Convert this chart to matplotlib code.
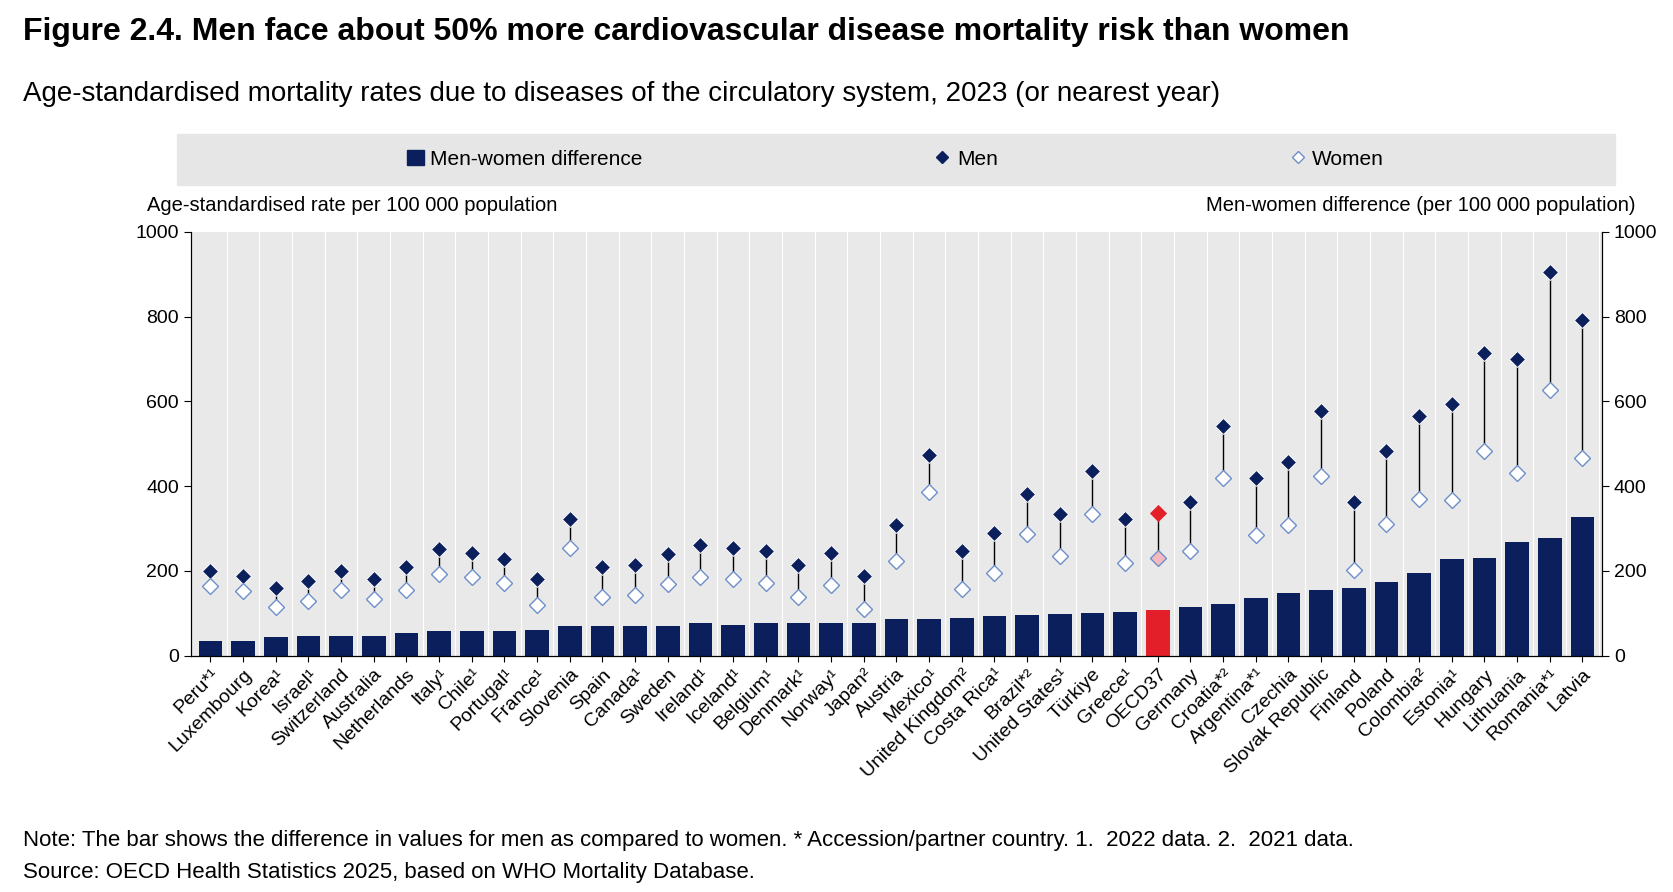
import matplotlib
matplotlib.use("Agg")
import matplotlib.pyplot as plt
import numpy as np
from matplotlib.lines import Line2D
from matplotlib.patches import Patch, Rectangle

plt.rcParams['font.family'] = ['Liberation Sans Narrow', 'Liberation Sans', 'DejaVu Sans']

countries = ["Peru*¹", "Luxembourg", "Korea¹", "Israel¹", "Switzerland", "Australia", "Netherlands",
             "Italy¹", "Chile¹", "Portugal¹", "France¹", "Slovenia", "Spain", "Canada¹", "Sweden",
             "Ireland¹", "Iceland¹", "Belgium¹", "Denmark¹", "Norway¹", "Japan²", "Austria", "Mexico¹",
             "United Kingdom²", "Costa Rica¹", "Brazil*²", "United States¹", "Türkiye", "Greece¹",
             "OECD37", "Germany", "Croatia*²", "Argentina*¹", "Czechia", "Slovak Republic", "Finland",
             "Poland", "Colombia²", "Estonia¹", "Hungary", "Lithuania", "Romania*¹", "Latvia"]
men = [200, 187, 160, 175, 200, 180, 208, 251, 243, 228, 180, 322, 210, 215, 241, 261, 253, 248,
       215, 243, 187, 309, 473, 246, 289, 382, 334, 435, 322, 337, 362, 542, 420, 456, 577, 362,
       484, 565, 595, 714, 699, 906, 792]
women = [165, 152, 114, 129, 154, 134, 154, 192, 185, 172, 119, 253, 139, 144, 170, 185, 180, 172,
         139, 167, 109, 223, 387, 157, 195, 286, 235, 334, 218, 230, 248, 420, 284, 309, 423, 203,
         311, 370, 367, 484, 430, 628, 466]
diff = [35, 35, 45, 46, 46, 47, 54, 58, 58, 57, 61, 69, 71, 71, 71, 76, 73, 76, 76, 76, 78, 86,
        86, 89, 94, 96, 99, 101, 104, 107, 114, 122, 136, 147, 154, 159, 173, 195, 228, 230, 269,
        278, 326]

navy = "#0b1f5c"
red = "#e3202a"
light = "#6e8fc9"

fig = plt.figure(figsize=(16.74, 8.92), dpi=100)
ax = fig.add_axes([0.114, 0.265, 0.843, 0.475])
ax.set_facecolor("#e9e9e9")
x = np.arange(len(countries))
oecd = countries.index("OECD37")
colors = [red if i == oecd else navy for i in x]
ax.bar(x, diff, width=0.72, color=colors, zorder=2)
for i in x:
    ax.axvline(i + 0.5, color="white", lw=0.8, zorder=1)
    ax.plot([i, i], [women[i], men[i]], color="black", lw=1, zorder=3)
    mc = red if i == oecd else navy
    ax.plot(i, men[i], marker="D", ms=8, color=mc, mec="white" if i != oecd else red, mew=0.6, zorder=4)
    ax.plot(i, women[i], marker="D", ms=8, mfc="#f4b8c0" if i == oecd else "white",
            mec=light, mew=1, zorder=4)

ax.set_xlim(-0.6, len(countries) - 0.4)
ax.set_ylim(0, 1000)
ax.set_yticks(range(0, 1001, 200))
ax.tick_params(axis="y", labelsize=14, direction="out", length=5)
ax.set_xticks(x)
ax.set_xticklabels(countries, rotation=45, ha="right", rotation_mode="anchor", fontsize=14)
ax.tick_params(axis="x", length=4)
ax.spines["top"].set_visible(False)
ax2 = ax.twinx()
ax2.set_ylim(0, 1000)
ax2.set_yticks(range(0, 1001, 200))
ax2.tick_params(axis="y", labelsize=14, length=5)
ax2.spines["top"].set_visible(False)

fig.text(0.088, 0.764, "Age-standardised rate per 100 000 population", fontsize=14.5)
fig.text(0.977, 0.764, "Men-women difference (per 100 000 population)", fontsize=14.5, ha="right")

# legend band
fig.patches.append(Rectangle((0.106, 0.793), 0.859, 0.057, transform=fig.transFigure,
                             color="#e6e6e6", zorder=0))
handles = [Patch(color=navy, label="Men-women difference"),
           Line2D([], [], marker="D", ls="", color=navy, ms=6, label="Men"),
           Line2D([], [], marker="D", ls="", mfc="white", mec=light, ms=6, label="Women")]
fig.legend(handles=handles, loc="center", bbox_to_anchor=(0.535, 0.8215), ncol=3, frameon=False,
           fontsize=15, columnspacing=14, handlelength=0.8, handletextpad=0.3)

fig.text(0.014, 0.955, "Figure 2.4. Men face about 50% more cardiovascular disease mortality risk than women",
         fontsize=23, fontweight="bold")
fig.text(0.014, 0.887, "Age-standardised mortality rates due to diseases of the circulatory system, 2023 (or nearest year)",
         fontsize=20)
fig.text(0.014, 0.052, "Note: The bar shows the difference in values for men as compared to women. * Accession/partner country. 1.  2022 data. 2.  2021 data.",
         fontsize=16)
fig.text(0.014, 0.016, "Source: OECD Health Statistics 2025, based on WHO Mortality Database.", fontsize=16)

fig.savefig("out.png", dpi=100)
